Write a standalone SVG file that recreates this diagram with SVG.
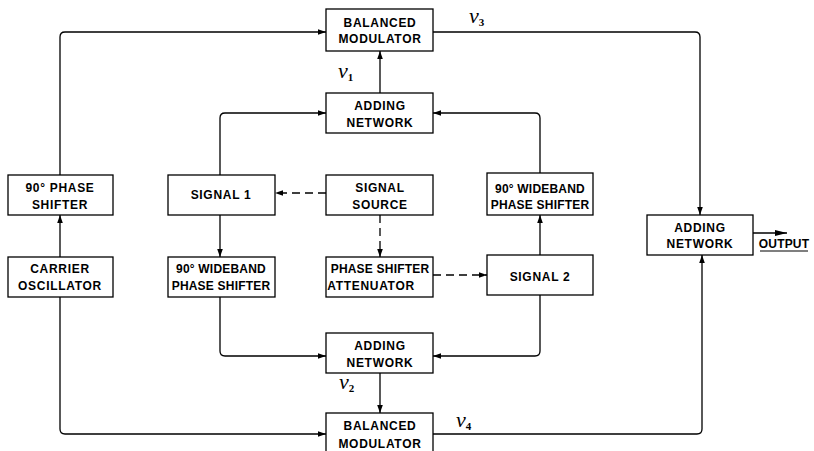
<svg xmlns="http://www.w3.org/2000/svg" width="814" height="451" viewBox="0 0 814 451">
<defs>
<marker id="ah" markerUnits="userSpaceOnUse" markerWidth="10" markerHeight="8" refX="8" refY="4" orient="auto">
<path d="M0,1.2 L8,4 L0,6.8 Z" fill="#000"/>
</marker>
<marker id="ahb" markerUnits="userSpaceOnUse" markerWidth="14" markerHeight="10" refX="12" refY="5" orient="auto">
<path d="M0,2 L12,5 L0,8 Z" fill="#000"/>
</marker>
</defs>
<style>
.box{fill:#fff;stroke:#000;stroke-width:1.3}
.t{font-family:"Liberation Sans",Arial,sans-serif;font-weight:bold;font-size:12px;letter-spacing:0.7px;text-anchor:middle;fill:#000}
.n{letter-spacing:0.2px}
.c{fill:none;stroke:#000;stroke-width:1.3}
.d{stroke-dasharray:8 5}
.a{marker-end:url(#ah)}
.v{font-family:"Liberation Serif","Times New Roman",serif;font-style:italic;font-size:22px;fill:#000}
.s{font-size:11px;font-style:normal;font-weight:bold}
</style>
<rect width="814" height="451" fill="#fff"/>
<g id="connectors">
<path class="c a" d="M60,257 V215"/>
<path class="c a" d="M60,175 V37 Q60,32 65,32 H326"/>
<path class="c a" d="M60,297 V429 Q60,434 65,434 H326"/>
<path class="c d a" d="M326,193 H275"/>
<path class="c d a" d="M380,215 V257"/>
<path class="c d a" d="M433,275 H487"/>
<path class="c a" d="M220,175 V118 Q220,113 225,113 H326"/>
<path class="c a" d="M220,215 V257"/>
<path class="c a" d="M220,297 V351 Q220,356 225,356 H326"/>
<path class="c a" d="M540,255 V215"/>
<path class="c a" d="M540,173 V118 Q540,113 535,113 H433"/>
<path class="c a" d="M540,295 V351 Q540,356 535,356 H433"/>
<path class="c a" d="M380,93 V51"/>
<path class="c a" d="M380,373 V413"/>
<path class="c a" d="M433,32 H695 Q700,32 700,37 V215"/>
<path class="c a" d="M433,434 H697 Q702,434 702,429 V255"/>
<path class="c" d="M753,233 H787" marker-end="url(#ahb)"/>
</g>
<g id="bm1"><rect class="box" x="326" y="9" width="107" height="42"/><text class="t" x="380" y="27">BALANCED</text><text class="t" x="380" y="43">MODULATOR</text></g>
<g id="an1"><rect class="box" x="326" y="93" width="107" height="40"/><text class="t" x="380" y="110">ADDING</text><text class="t" x="380" y="127">NETWORK</text></g>
<g id="ps90"><rect class="box" x="8" y="175" width="105" height="40"/><text class="t" x="60" y="192">90° PHASE</text><text class="t" x="60" y="209">SHIFTER</text></g>
<g id="sig1"><rect class="box" x="168" y="175" width="107" height="40"/><text class="t" x="221" y="199">SIGNAL 1</text></g>
<g id="src"><rect class="box" x="326" y="175" width="107" height="40"/><text class="t" x="380" y="192">SIGNAL</text><text class="t" x="380" y="209">SOURCE</text></g>
<g id="wb2"><rect class="box" x="487" y="173" width="106" height="42"/><text class="t n" x="540" y="193">90° WIDEBAND</text><text class="t n" x="540" y="209">PHASE SHIFTER</text></g>
<g id="osc"><rect class="box" x="8" y="257" width="105" height="40"/><text class="t" x="60" y="273">CARRIER</text><text class="t" x="60" y="290">OSCILLATOR</text></g>
<g id="wb1"><rect class="box" x="168" y="257" width="107" height="40"/><text class="t n" x="221" y="273">90° WIDEBAND</text><text class="t n" x="221" y="290">PHASE SHIFTER</text></g>
<g id="att"><rect class="box" x="326" y="257" width="107" height="40"/><text class="t n" x="380" y="273">PHASE SHIFTER</text><text class="t" x="371" y="290">ATTENUATOR</text></g>
<g id="sig2"><rect class="box" x="487" y="255" width="106" height="40"/><text class="t" x="540" y="281">SIGNAL 2</text></g>
<g id="an3"><rect class="box" x="647" y="215" width="106" height="40"/><text class="t" x="700" y="232">ADDING</text><text class="t" x="700" y="248">NETWORK</text></g>
<g id="out"><text class="t n" x="784" y="248">OUTPUT</text><line x1="760" y1="251" x2="808" y2="251" stroke="#000" stroke-width="1.2"/></g>
<g id="an2"><rect class="box" x="326" y="333" width="107" height="40"/><text class="t" x="380" y="350">ADDING</text><text class="t" x="380" y="367">NETWORK</text></g>
<g id="bm2"><rect class="box" x="326" y="413" width="107" height="50"/><text class="t" x="380" y="430">BALANCED</text><text class="t" x="380" y="448">MODULATOR</text></g>
<g id="labels">
<text class="v" x="338" y="78">v<tspan class="s" dy="3">1</tspan></text>
<text class="v" x="469" y="23">v<tspan class="s" dy="3">3</tspan></text>
<text class="v" x="339" y="389">v<tspan class="s" dy="3">2</tspan></text>
<text class="v" x="456" y="427">v<tspan class="s" dy="3">4</tspan></text>
</g>
</svg>
